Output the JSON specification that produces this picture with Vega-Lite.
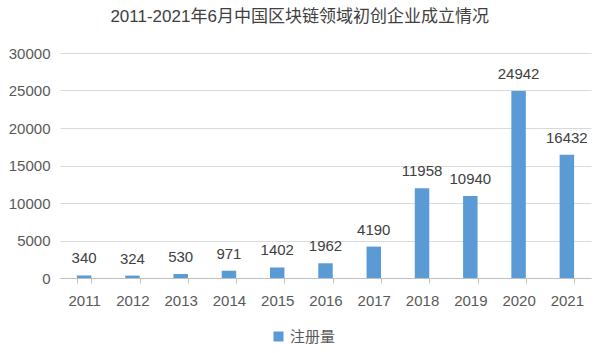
{
  "$schema": "https://vega.github.io/schema/vega-lite/v6.json",
  "width": 531,
  "height": 225,
  "padding": {"left": 8, "right": 15, "top": 8, "bottom": 8},
  "background": "white",
  "config": {"view": {"stroke": null}, "font": "Liberation Sans, Noto Sans CJK SC"},
  "title": {
    "text": "2011-2021年6月中国区块链领域初创企业成立情况",
    "fontSize": 17,
    "fontWeight": "normal",
    "color": "#404040",
    "font": "Liberation Sans, Noto Sans CJK SC",
    "frame": "bounds",
    "anchor": "middle",
    "offset": 20
  },
  "data": {
    "values": [
      {"year": "2011", "value": 340},
      {"year": "2012", "value": 324},
      {"year": "2013", "value": 530},
      {"year": "2014", "value": 971},
      {"year": "2015", "value": 1402},
      {"year": "2016", "value": 1962},
      {"year": "2017", "value": 4190},
      {"year": "2018", "value": 11958},
      {"year": "2019", "value": 10940},
      {"year": "2020", "value": 24942},
      {"year": "2021", "value": 16432}
    ]
  },
  "encoding": {
    "x": {
      "field": "year",
      "type": "ordinal",
      "scale": {"paddingInner": 0.7, "paddingOuter": 0.35},
      "axis": {
        "title": null,
        "labelAngle": 0,
        "labelFontSize": 15,
        "labelColor": "#595959",
        "labelPadding": 10,
        "domainColor": "#bfbfbf",
        "tickColor": "#bfbfbf",
        "tickSize": 5,
        "tickBand": "extent",
        "grid": false
      }
    },
    "y": {
      "field": "value",
      "type": "quantitative",
      "scale": {"domain": [0, 30000]},
      "axis": {
        "title": null,
        "values": [0, 5000, 10000, 15000, 20000, 25000, 30000],
        "format": "d",
        "labelOverlap": false,
        "labelFontSize": 15,
        "labelColor": "#595959",
        "labelPadding": 10,
        "domain": false,
        "ticks": false,
        "gridColor": "#d9d9d9",
        "gridWidth": 1
      }
    }
  },
  "layer": [
    {
      "mark": {"type": "bar"},
      "encoding": {
        "color": {
          "datum": "注册量",
          "type": "nominal",
          "scale": {"range": ["#5B9BD5"]},
          "legend": {
            "orient": "none",
            "legendX": 211,
            "legendY": 276,
            "direction": "horizontal",
            "title": null,
            "symbolType": "square",
            "symbolSize": 100,
            "symbolStrokeWidth": 0,
            "labelFontSize": 15,
            "labelColor": "#595959"
          }
        }
      }
    },
    {
      "mark": {"type": "text", "dy": -17, "fontSize": 15, "color": "#404040"},
      "encoding": {
        "text": {"field": "value", "type": "quantitative", "format": "d"}
      }
    }
  ]
}
